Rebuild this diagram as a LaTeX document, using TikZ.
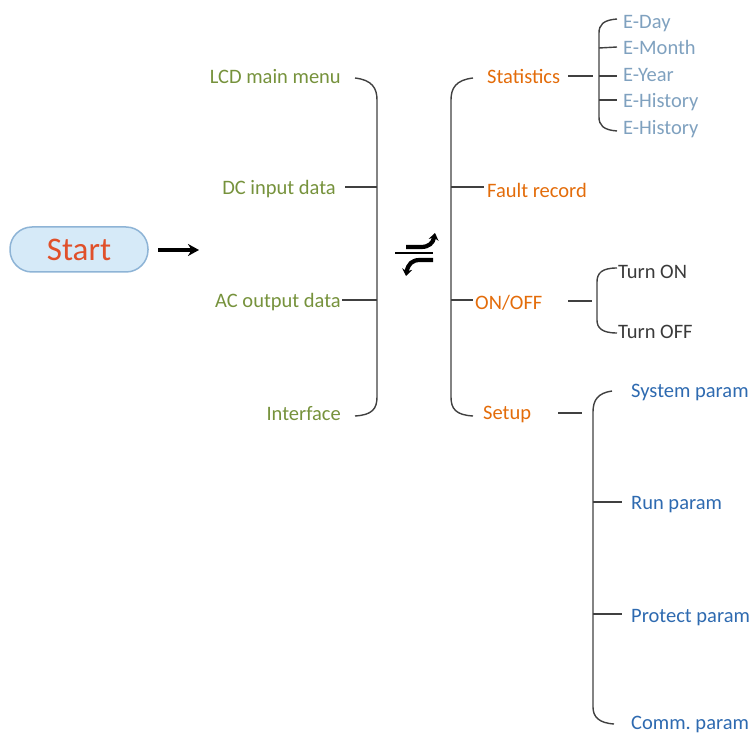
\documentclass[tikz,border=0pt]{standalone}
\usepackage{fontspec}
\setmainfont{Carlito}
\usetikzlibrary{arrows.meta}
\definecolor{olivegr}{HTML}{76923C}
\definecolor{orng}{HTML}{E36C0A}
\definecolor{lightbl}{HTML}{7FA1BF}
\definecolor{darkbl}{HTML}{2E6AB0}
\definecolor{grayt}{HTML}{3A3A3A}
\definecolor{brkc}{HTML}{404040}
\definecolor{startfill}{HTML}{D6EAF8}
\definecolor{startdraw}{HTML}{8EB4D6}
\definecolor{starttext}{HTML}{E0502A}
\begin{document}
\begin{tikzpicture}[x=1pt,y=-1pt,
  every node/.style={font=\fontsize{20.5}{24}\selectfont, inner sep=0pt, text height=17pt, text depth=1pt},
  lab/.style={text=olivegr, anchor=east},
  mlab/.style={text=orng, anchor=west},
  slab/.style={text=lightbl, anchor=west},
  olab/.style={text=grayt, anchor=west},
  plab/.style={text=darkbl, anchor=west},
  brk/.style={draw=brkc, line width=1.4pt},
  sym/.style={line width=4.2pt, -{Stealth[length=7pt,width=10pt]}}]
\useasboundingbox (0,0) rectangle (756,735);

% Start
\node[draw=startdraw, fill=startfill, line width=1.5pt, rounded corners=22pt,
      minimum width=138pt, minimum height=45pt, text height=23pt, text depth=0pt,
      font=\fontsize{33}{36}\selectfont, text=starttext] (start) at (79,249.5) {Start};
\coordinate (arrEnd) at (199,250);
\coordinate (arrS) at (158,250);
\draw[line width=3.5pt, -{Stealth[length=11pt,width=12pt]}] (arrS) -- (arrEnd);

% left labels
\node[lab] (lcd) at (341,76) {LCD main menu};
\node[lab] (dc) at (336,187) {DC input data};
\node[lab] (ac) at (341,300) {AC output data};
\node[lab] (intf) at (341,413) {Interface};

% left bracket
\coordinate (lbT) at (355,78);
\coordinate (lbB) at (355,416);
\coordinate (lb1) at (377,187);
\coordinate (lb2) at (377,300);
\draw[brk] (lbT) .. controls (372,80) and (377,88) .. (377,100) -- (377,397) .. controls (377,409) and (372,415) .. (lbB);
\draw[brk] ([xshift=9pt]dc.east) -- (lb1);
\draw[brk] ([xshift=1pt]ac.east) -- (lb2);

% right labels
\node[mlab] (stat) at (487,76) {Statistics};
\node[mlab] (fault) at (487,190) {Fault record};
\node[mlab] (onoff) at (475,302) {ON/OFF};
\node[mlab] (setup) at (483,412) {Setup};

% right bracket
\coordinate (rbT) at (473,78);
\coordinate (rbB) at (473,416);
\coordinate (rb1) at (451,187);
\coordinate (rb2) at (451,300);
\draw[brk] (rbT) .. controls (456,80) and (451,88) .. (451,100) -- (451,397) .. controls (451,409) and (456,415) .. (rbB);
\draw[brk] (rb1) -- (484,187);
\draw[brk] (rb2) -- ([xshift=-2pt]onoff.west |- rb2);

% switch symbol
\coordinate (symL) at (395,253);
\coordinate (symR) at (433,253);
\draw[line width=1.6pt] (symL) -- (symR);
\draw[sym] (406,247) -- (421,247) .. controls (429,247) and (433,243) .. (435,233);
\draw[sym] (433,260) -- (420,260) .. controls (412,260) and (408,264) .. (406,276);

% statistics sub
\node[slab] (eday) at (623,21) {E-Day};
\node[slab] (emonth) at (623,47) {E-Month};
\node[slab] (eyear) at (623,74) {E-Year};
\node[slab] (ehist1) at (623,100) {E-History};
\node[slab] (ehist2) at (623,127) {E-History};
\draw[brk] ([xshift=8pt]stat.east) -- (593,76);
\coordinate (sbT) at (617,19);
\coordinate (sbB) at (617,131);
\draw[brk] (sbT) .. controls (603,20) and (599,25) .. (599,33) -- (599,117) .. controls (599,125) and (603,130) .. (sbB);
\draw[brk] (599,48) -- ([xshift=-6pt]emonth.west);
\draw[brk] (599,76) -- ([xshift=-6pt]eyear.west |- 0,76);
\draw[brk] (599,100) -- ([xshift=-6pt]ehist1.west);

% on/off sub
\node[olab] (ton) at (618,271) {Turn ON};
\node[olab] (toff) at (618,331) {Turn OFF};
\draw[brk] (568,301) -- (592,301);
\coordinate (obT) at (617,268);
\coordinate (obB) at (617,333);
\draw[brk] (obT) .. controls (602,268) and (597,273) .. (597,282) -- (597,320) .. controls (597,328) and (602,333) .. (obB);

% setup sub
\node[plab] (sys) at (631,390) {System param};
\node[plab] (run) at (631,502) {Run param};
\node[plab] (prot) at (631,614) {Protect param};
\node[plab] (comm) at (631,721) {Comm.\ param};
\draw[brk] (558,413) -- (582,413);
\coordinate (pbT) at (612,391);
\coordinate (pbB) at (614,724);
\draw[brk] (pbT) .. controls (598,393) and (593,400) .. (593,412) -- (593,707) .. controls (593,717) and (599,723) .. (pbB);
\draw[brk] (593,502) -- ([xshift=-9pt]run.west);
\draw[brk] (593,614) -- ([xshift=-9pt]prot.west);
\end{tikzpicture}
\end{document}
